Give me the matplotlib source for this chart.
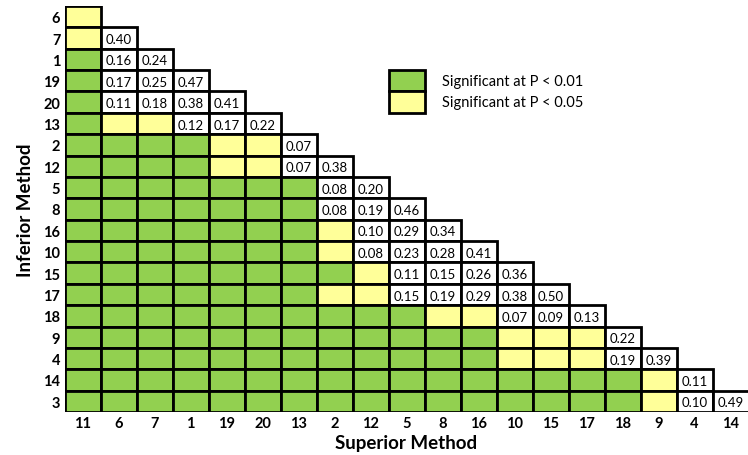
import matplotlib
matplotlib.use("Agg")
import matplotlib.pyplot as plt
from matplotlib.patches import Rectangle

plt.rcParams["font.family"] = ["Lato", "DejaVu Sans"]

# rows = inferior method (top to bottom), cols = superior method (left to right)
inferior = ["6", "7", "1", "19", "20", "13", "2", "12", "5", "8", "16", "10",
            "15", "17", "18", "9", "4", "14", "3"]
superior = ["11", "6", "7", "1", "19", "20", "13", "2", "12", "5", "8", "16",
            "10", "15", "17", "18", "9", "4", "14"]

# G = significant at P<0.01, Y = significant at P<0.05, number = p-value
G, Y = "G", "Y"
cells = [
    [Y],
    [Y, 0.40],
    [G, 0.16, 0.24],
    [G, 0.17, 0.25, 0.47],
    [G, 0.11, 0.18, 0.38, 0.41],
    [G, Y, Y, 0.12, 0.17, 0.22],
    [G, G, G, G, Y, Y, 0.07],
    [G, G, G, G, Y, Y, 0.07, 0.38],
    [G] * 7 + [0.08, 0.20],
    [G] * 7 + [0.08, 0.19, 0.46],
    [G] * 7 + [Y, 0.10, 0.29, 0.34],
    [G] * 7 + [Y, 0.08, 0.23, 0.28, 0.41],
    [G] * 8 + [Y, 0.11, 0.15, 0.26, 0.36],
    [G] * 7 + [Y, Y, 0.15, 0.19, 0.29, 0.38, 0.50],
    [G] * 10 + [Y, Y, 0.07, 0.09, 0.13],
    [G] * 12 + [Y, Y, Y, 0.22],
    [G] * 12 + [Y, Y, Y, 0.19, 0.39],
    [G] * 16 + [Y, 0.11],
    [G] * 16 + [Y, 0.10, 0.49],
]

GREEN = "#92D050"
YELLOW = "#FFFF99"
colors = {G: GREEN, Y: YELLOW}
LW = 2.0

fig = plt.figure(figsize=(7.48, 4.56), dpi=100)
ax = fig.add_axes([64.5 / 748, 43 / 456, 684 / 748, 406 / 456])

for r, row in enumerate(cells):
    for c, v in enumerate(row):
        fc = colors.get(v, "white") if isinstance(v, str) else "white"
        ax.add_patch(Rectangle((c, r), 1, 1, facecolor=fc, edgecolor="black",
                               lw=LW, zorder=2))
        if not isinstance(v, str):
            ax.text(c + 0.5, r + 0.55, f"{v:.2f}", ha="center", va="center",
                    fontsize=9.5, zorder=3)

# legend drawn as two stacked boxes inside the empty upper triangle
ax.add_patch(Rectangle((9, 3), 1, 1, facecolor=GREEN, edgecolor="black", lw=LW))
ax.add_patch(Rectangle((9, 4), 1, 1, facecolor=YELLOW, edgecolor="black", lw=LW))
ax.text(10.5, 3.5, "Significant at P < 0.01", va="center", fontsize=10.5)
ax.text(10.5, 4.5, "Significant at P < 0.05", va="center", fontsize=10.5)

ax.set_xlim(0, len(superior))
ax.set_ylim(len(inferior), 0)
ax.set_xticks([i + 0.5 for i in range(len(superior))])
ax.set_xticklabels(superior, fontweight="bold", fontsize=10.5)
ax.set_yticks([i + 0.5 for i in range(len(inferior))])
ax.set_yticklabels(inferior, fontweight="bold", fontsize=10.5)
ax.tick_params(length=0, pad=3)
for s in ax.spines.values():
    s.set_visible(False)
ax.set_xlabel("Superior Method", fontweight="bold", fontsize=13.5, labelpad=3)
ax.set_ylabel("Inferior Method", fontweight="bold", fontsize=13.5, labelpad=7)

fig.savefig("out.png", dpi=100)
